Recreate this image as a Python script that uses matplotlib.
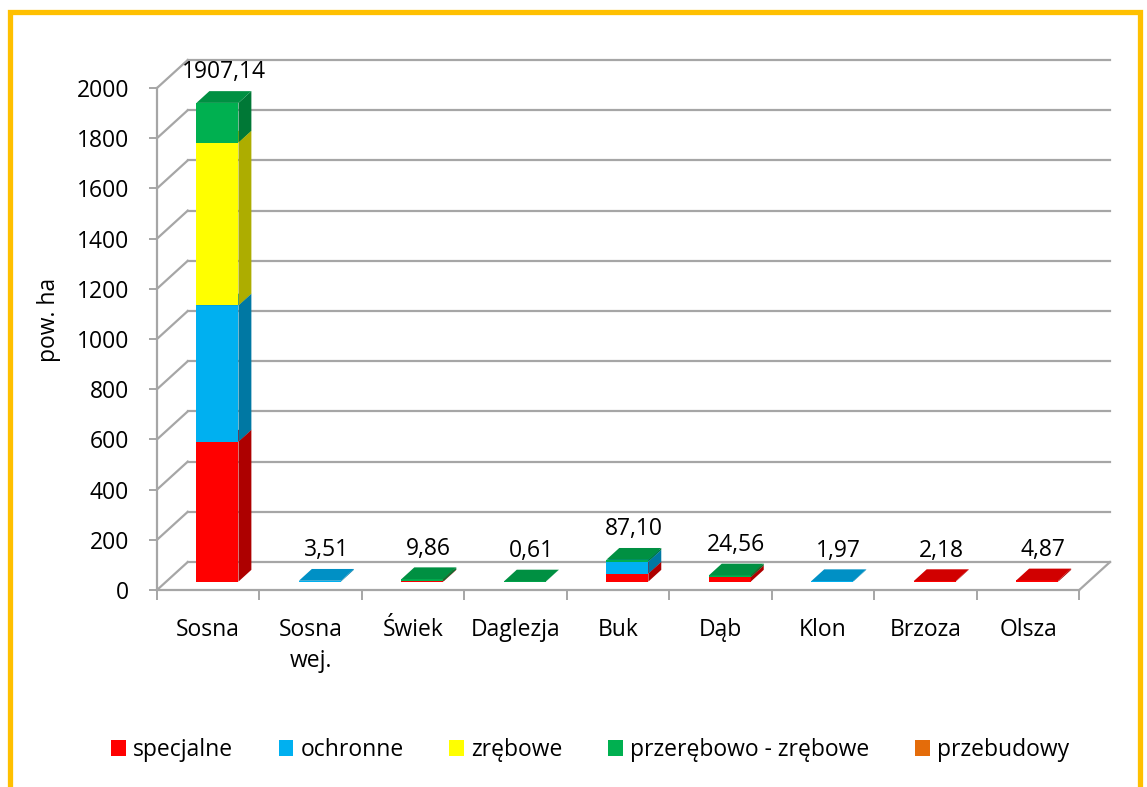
import matplotlib
matplotlib.use('Agg')
import matplotlib.pyplot as plt
import matplotlib.colors as mcolors
from matplotlib.patches import Polygon, Rectangle, Patch

plt.rcParams['font.family'] = ['Open Sans', 'DejaVu Sans']

# powierzchnia wg gatunku i rodzaju ciecia [ha]
categories = ['Sosna', 'Sosna\nwej.', 'Świek', 'Daglezja', 'Buk', 'Dąb', 'Klon', 'Brzoza', 'Olsza']
specjalne = [557.8, 0, 1.5, 0, 32.0, 18.0, 0, 2.18, 4.87]
ochronne = [542.5, 3.51, 0, 0, 48.0, 0, 1.97, 0, 0]
zrebowe = [648.9, 0, 0, 0, 0, 0, 0, 0, 0]
przerebowo_zrebowe = [157.94, 0, 8.36, 0.61, 7.1, 6.56, 0, 0, 0]
przebudowy = [0, 0, 0, 0, 0, 0, 0, 0, 0]

series_names = ['specjalne', 'ochronne', 'zrębowe', 'przerębowo - zrębowe', 'przebudowy']
series = [specjalne, ochronne, zrebowe, przerebowo_zrebowe, przebudowy]
colors = ['#FF0000', '#00B0F0', '#FFFF00', '#00B050', '#E46C0A']

yticks = list(range(0, 2001, 200))

# 3d look: depth offset of the back wall (in data units) and bar placement
DX = 0.30
DY = 111.5
Z0, Z1 = 0.30, 0.72
BW = 0.41
grid_col = '#a6a6a6'
FS = 16.5

fig = plt.figure(figsize=(11.47, 7.87), dpi=100)
ax = fig.add_axes([157/1147, (787-590)/787, (1110-157)/1147, (590-60)/787])
ax.set_xlim(-0.5, len(categories) - 0.5 + DX)
ax.set_ylim(0, 2000 + DY)


def proj(x, y, z):
    return (x + z*DX, y + z*DY)


def shade(c, f):
    r, g, b = mcolors.to_rgb(c)
    return (r*f, g*f, b*f)


def draw_box(i, y0, y1, color):
    x0 = i - BW/2
    x1 = i + BW/2
    front = [proj(x0, y0, Z0), proj(x1, y0, Z0), proj(x1, y1, Z0), proj(x0, y1, Z0)]
    side = [proj(x1, y0, Z0), proj(x1, y0, Z1), proj(x1, y1, Z1), proj(x1, y1, Z0)]
    top = [proj(x0, y1, Z0), proj(x1, y1, Z0), proj(x1, y1, Z1), proj(x0, y1, Z1)]
    ax.add_patch(Polygon(front, closed=True, facecolor=color, edgecolor='none', zorder=3))
    ax.add_patch(Polygon(side, closed=True, facecolor=shade(color, 0.68), edgecolor='none', zorder=3))
    ax.add_patch(Polygon(top, closed=True, facecolor=shade(color, 0.82), edgecolor='none', zorder=3))


# walls: back gridlines and the left side wall
n = len(categories)
for v in yticks:
    ax.plot([-0.5 + DX, n - 0.5 + DX], [v + DY, v + DY], color=grid_col, lw=1.6, zorder=1, clip_on=False)
    ax.plot([-0.5, -0.5 + DX], [v, v + DY], color=grid_col, lw=1.6, zorder=1, clip_on=False)
# floor right edge
ax.plot([n - 0.5, n - 0.5 + DX], [0, DY], color=grid_col, lw=1.6, zorder=1, clip_on=False)

# stacked bars
for i in range(n):
    bottom = 0
    for vals, col in zip(series, colors):
        h = vals[i]
        if h <= 0:
            continue
        draw_box(i, bottom, bottom + h, col)
        bottom += h
    total = sum(s[i] for s in series)
    lx, ly = proj(i + 0.06, total, Z0)
    ax.annotate(f'{total:.2f}'.replace('.', ','), (lx, ly), xytext=(0, 22), textcoords='offset points',
                ha='center', va='center', fontsize=FS, zorder=5, annotation_clip=False)

# axes
for s in ['top', 'right']:
    ax.spines[s].set_visible(False)
ax.spines['left'].set_bounds(0, 2000)
ax.spines['bottom'].set_bounds(-0.5, n - 0.5)
for s in ['left', 'bottom']:
    ax.spines[s].set_color(grid_col)
    ax.spines[s].set_linewidth(1.6)

ax.set_yticks(yticks)
ax.set_yticklabels([str(v) for v in yticks], fontsize=FS)
ax.tick_params(axis='y', length=6, width=1.4, color=grid_col, pad=14)

ax.set_xticks([k - 0.5 for k in range(n + 1)])
ax.set_xticklabels([])
ax.tick_params(axis='x', which='major', length=7, width=1.4, color=grid_col)
ax.set_xticks(range(n), minor=True)
ax.set_xticklabels(categories, minor=True, fontsize=FS)
ax.tick_params(axis='x', which='minor', length=0, pad=20)
for lbl in ax.get_xticklabels(minor=True):
    lbl.set_linespacing(1.4)

fig.text(49/1147, 1 - 320/787, 'pow. ha', rotation=90, ha='center', va='center', fontsize=FS)

handles = [Patch(facecolor=c, edgecolor='none') for c in colors]
fig.legend(handles, series_names, loc='center', bbox_to_anchor=(590/1147, 1 - 750/787), ncol=5,
           frameon=False, fontsize=FS, handlelength=0.65, handleheight=0.65, handletextpad=0.3,
           columnspacing=2.0)

# orange frame
fig.add_artist(Rectangle((10/1147, -0.05), (1140 - 10)/1147, 1 - 11.5/787 + 0.05,
                         transform=fig.transFigure, fill=False, edgecolor='#FFC000', lw=3.8))

fig.savefig('out.png', dpi=100)
